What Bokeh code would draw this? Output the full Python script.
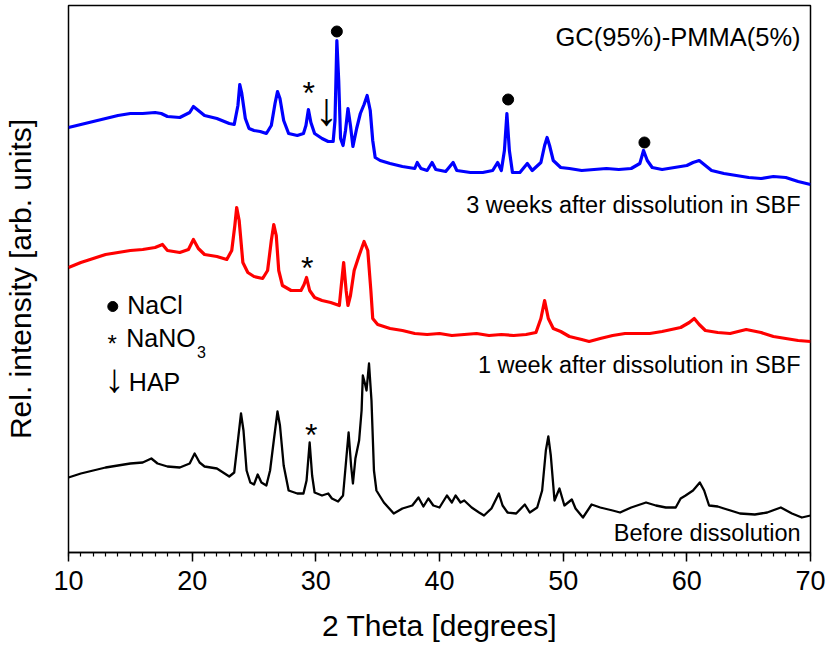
from bokeh.plotting import figure
from bokeh.models import Range1d, SingleIntervalTicker, FixedTicker
from bokeh.core.properties import value
from bokeh.embed import file_html
from bokeh.resources import INLINE

FONT = "Liberation Sans"

# ---- data (2-theta in degrees, relative intensity in arbitrary units) ----
theta_3w = [10.0, 11.0, 12.0, 13.0, 14.0, 15.0, 16.0, 17.0, 17.5, 18.0, 19.0, 19.8, 20.1, 20.5, 21.0, 22.0,
            23.0, 23.4, 23.7, 23.85, 24.0, 24.3, 24.6, 25.0, 25.5, 26.0, 26.4, 26.7, 26.9, 27.1, 27.4, 27.8,
            28.5, 29.0, 29.2, 29.4, 29.6, 29.9, 30.5, 31.0, 31.4, 31.55, 31.7, 31.85, 32.0, 32.2, 32.4, 32.6,
            32.8, 33.0, 33.3, 33.6, 33.9, 34.15, 34.4, 34.6, 34.8, 35.2, 36.0, 37.0, 38.0, 38.2, 38.5, 39.0,
            39.4, 39.7, 40.5, 41.1, 41.4, 42.5, 43.5, 44.3, 44.7, 45.0, 45.25, 45.45, 45.65, 45.9, 46.5, 47.1,
            47.5, 48.2, 48.5, 48.7, 48.9, 49.2, 49.8, 50.5, 51.5, 52.5, 53.5, 54.5, 55.5, 56.2, 56.5, 56.8,
            57.2, 58.0, 59.0, 60.0, 60.5, 61.0, 61.5, 62.0, 63.0, 64.0, 65.0, 66.0, 67.0, 68.0, 69.0, 70.0]
int_3w = [425, 428, 431, 434, 437, 439, 439, 440, 439, 436, 435, 440, 446, 442, 437, 434,
          429, 428, 447, 468, 460, 434, 424, 422, 421, 419, 427, 449, 461, 454, 432, 419,
          417, 419, 427, 443, 430, 419, 414, 411, 411, 432, 512, 472, 414, 407, 422, 444,
          427, 406, 424, 439, 448, 457, 442, 412, 395, 392, 389, 386, 384, 390, 384, 382,
          390, 383, 381, 390, 382, 380, 380, 382, 390, 382, 402, 439, 402, 380, 380, 389,
          382, 390, 407, 415, 407, 392, 385, 384, 382, 383, 384, 383, 384, 389, 402, 392,
          385, 383, 385, 387, 390, 392, 387, 382, 379, 377, 375, 374, 376, 375, 371, 368]

theta_1w = [10.0, 11.0, 12.0, 13.0, 14.0, 15.0, 16.0, 17.0, 17.6, 18.0, 19.0, 19.7, 20.1, 20.5, 21.0, 22.0,
            22.8, 23.2, 23.45, 23.6, 23.8, 24.1, 24.5, 25.0, 25.7, 26.1, 26.4, 26.6, 26.8, 27.0, 27.3, 28.0,
            28.8, 29.05, 29.25, 29.5, 29.9, 30.5, 31.2, 31.9, 32.1, 32.25, 32.45, 32.6, 32.8, 33.1, 33.5, 33.9,
            34.2, 34.45, 34.6, 35.0, 36.0, 37.0, 38.0, 39.0, 40.0, 41.0, 42.0, 43.0, 44.0, 45.0, 46.0, 47.0,
            47.8, 48.2, 48.5, 48.8, 49.2, 49.8, 50.5, 51.5, 52.1, 53.0, 54.0, 55.0, 56.0, 57.0, 58.0, 59.5,
            60.2, 60.6, 61.0, 61.5, 62.5, 63.5, 64.8, 66.0, 67.0, 68.0, 69.0, 70.0]
int_1w = [285, 290, 294, 298, 300, 302, 303, 305, 308, 302, 300, 303, 313, 304, 298, 296,
          293, 302, 327, 345, 332, 290, 280, 276, 274, 282, 312, 328, 317, 282, 267, 262,
          262, 268, 275, 262, 255, 252, 250, 247, 272, 290, 262, 247, 257, 282, 297, 311,
          302, 262, 234, 228, 224, 222, 219, 218, 219, 217, 218, 219, 217, 218, 217, 218,
          220, 234, 252, 234, 224, 221, 216, 213, 211, 214, 217, 219, 219, 219, 221, 225,
          230, 234, 228, 222, 220, 219, 223, 220, 216, 214, 212, 211]

theta_0 = [10.0, 11.0, 12.0, 13.0, 14.0, 15.0, 16.0, 16.7, 17.2, 18.0, 19.0, 19.8, 20.2, 20.6, 21.0, 22.0,
           22.5, 23.0, 23.4, 23.7, 23.95, 24.15, 24.4, 24.7, 25.0, 25.3, 25.6, 26.0, 26.3, 26.6, 26.9, 27.1,
           27.4, 27.8, 28.5, 29.0, 29.25, 29.5, 29.7, 29.9, 30.5, 31.0, 31.3, 31.8, 32.2, 32.45, 32.65, 32.85,
           33.0, 33.2, 33.5, 33.7, 33.8, 33.95, 34.1, 34.3, 34.5, 34.7, 34.9, 35.5, 36.3, 37.0, 37.8, 38.3,
           38.7, 39.1, 39.5, 40.0, 40.6, 41.0, 41.3, 41.7, 42.0, 42.6, 43.2, 43.6, 44.2, 44.8, 45.1, 45.5,
           46.2, 46.9, 47.3, 47.9, 48.3, 48.6, 48.8, 49.0, 49.3, 49.7, 50.1, 50.7, 51.0, 51.6, 52.3, 53.0,
           54.0, 54.6, 55.5, 56.7, 57.5, 58.3, 59.1, 59.5, 59.9, 60.5, 61.05, 61.4, 61.8, 62.5, 63.0, 64.3,
           65.5, 66.5, 67.6, 68.5, 69.3, 70.0]
int_0 = [75, 79, 82, 85, 87, 89, 90, 94, 89, 86, 85, 89, 99, 90, 86, 84,
         80, 76, 80, 112, 139, 122, 82, 70, 68, 78, 70, 67, 82, 112, 141, 127,
         87, 62, 59, 59, 72, 110, 77, 60, 57, 59, 54, 51, 57, 92, 120, 87,
         69, 94, 112, 142, 177, 170, 162, 189, 152, 82, 62, 50, 39, 44, 47, 55,
         46, 54, 47, 45, 57, 50, 57, 50, 52, 45, 40, 37, 44, 59, 47, 40,
         39, 48, 40, 45, 62, 102, 116, 97, 52, 64, 47, 53, 44, 35, 48, 45,
         42, 40, 45, 50, 47, 45, 45, 54, 57, 62, 70, 62, 47, 46, 44, 39,
         38, 40, 45, 39, 35, 37]

# phase markers
nacl_x = [31.70, 45.55, 56.57]
nacl_y = [521, 453, 410]
nano3_x = [29.43, 29.30, 29.62]
nano3_y = [460, 285, 118]
hap_x = [30.84]
hap_y = [444]

# curve labels
curve_labels = ["3 weeks after dissolution in SBF", "1 week after dissolution in SBF", "Before dissolution"]
curve_label_x = [69.2, 69.2, 69.2]
curve_label_y = [348, 188, 20]

p = figure(frame_width=742, frame_height=547,
           min_border_left=68, min_border_right=17, min_border_top=5, min_border_bottom=96,
           x_range=Range1d(10, 70), y_range=Range1d(0, 547),
           output_backend="svg", toolbar_location=None)
p.grid.visible = False
p.outline_line_color = "black"
p.outline_line_width = 1.5
p.outline_line_alpha = 1.0
p.background_fill_color = "white"
p.border_fill_color = "white"

ax = p.xaxis[0]
ax.ticker = SingleIntervalTicker(interval=10, num_minor_ticks=10)
ax.axis_line_width = 1.5
ax.major_tick_in = 0
ax.major_tick_out = 9
ax.minor_tick_in = 0
ax.minor_tick_out = 4
ax.major_tick_line_width = 1.5
ax.minor_tick_line_width = 1.2
ax.major_label_text_font = FONT
ax.major_label_text_font_size = "27px"
ax.major_label_text_color = "black"
ax.major_label_standoff = 9
ax.major_label_text_line_height = 1.0
ax.axis_label = "2 Theta [degrees]"
ax.axis_label_text_font = FONT
ax.axis_label_text_font_size = "30px"
ax.axis_label_text_font_style = "normal"
ax.axis_label_text_color = "black"
ax.axis_label_text_line_height = 1.0
ax.axis_label_standoff = 16

yax = p.yaxis[0]
yax.ticker = FixedTicker(ticks=[])
yax.axis_line_color = None
yax.major_tick_out = 0
yax.major_tick_in = 0
yax.minor_tick_out = 0
yax.minor_tick_in = 0
yax.major_label_text_font_size = "0px"
yax.axis_label = "Rel. intensity [arb. units]"
yax.axis_label_text_font = FONT
yax.axis_label_text_font_size = "30px"
yax.axis_label_text_font_style = "normal"
yax.axis_label_text_color = "black"
yax.axis_label_text_line_height = 1.0
yax.axis_label_standoff = 32

p.line(theta_0, int_0, line_color="black", line_width=2.3, line_join="round")
p.line(theta_1w, int_1w, line_color="#FF0000", line_width=3.2, line_join="round")
p.line(theta_3w, int_3w, line_color="#0000FF", line_width=3.2, line_join="round")

p.scatter(nacl_x, nacl_y, marker="circle", size=11, fill_color="black", line_color="black")
p.text(nano3_x, nano3_y, text=["*"] * 3, text_font=value(FONT), text_font_size="32px",
       text_align="center", text_baseline="alphabetic", text_color="black")
p.text(hap_x, hap_y, text=["\u2193"], text_font=value(FONT), text_font_size="46px",
       text_align="center", text_baseline="middle", text_color="black")

p.text(curve_label_x, curve_label_y, text=curve_labels, text_font=value(FONT), text_font_size="23.5px",
       text_align="right", text_baseline="alphabetic", text_color="black")
p.text([69.2], [516], text=["GC(95%)-PMMA(5%)"], text_font=value(FONT), text_font_size="25.5px",
       text_align="right", text_baseline="alphabetic", text_color="black")

# legend of phases
p.scatter([13.58], [246], marker="circle", size=10, fill_color="black", line_color="black")
p.text([14.75], [248], text=["NaCl"], text_font=value(FONT), text_font_size="25px",
       text_align="left", text_baseline="alphabetic", text_color="black")
p.text([13.53], [209], text=["*"], text_font=value(FONT), text_font_size="24px",
       text_align="center", text_baseline="alphabetic", text_color="black")
p.text([14.67], [215], text=["NaNO"], text_font=value(FONT), text_font_size="25px",
       text_align="left", text_baseline="alphabetic", text_color="black")
p.text([20.4], [201], text=["3"], text_font=value(FONT), text_font_size="16px",
       text_align="left", text_baseline="alphabetic", text_color="black")
p.text([13.72], [175], text=["\u2193"], text_font=value(FONT), text_font_size="40px",
       text_align="center", text_baseline="middle", text_color="black")
p.text([14.88], [171], text=["HAP"], text_font=value(FONT), text_font_size="25px",
       text_align="left", text_baseline="alphabetic", text_color="black")

open("out.html", "w").write(file_html(p, INLINE))
